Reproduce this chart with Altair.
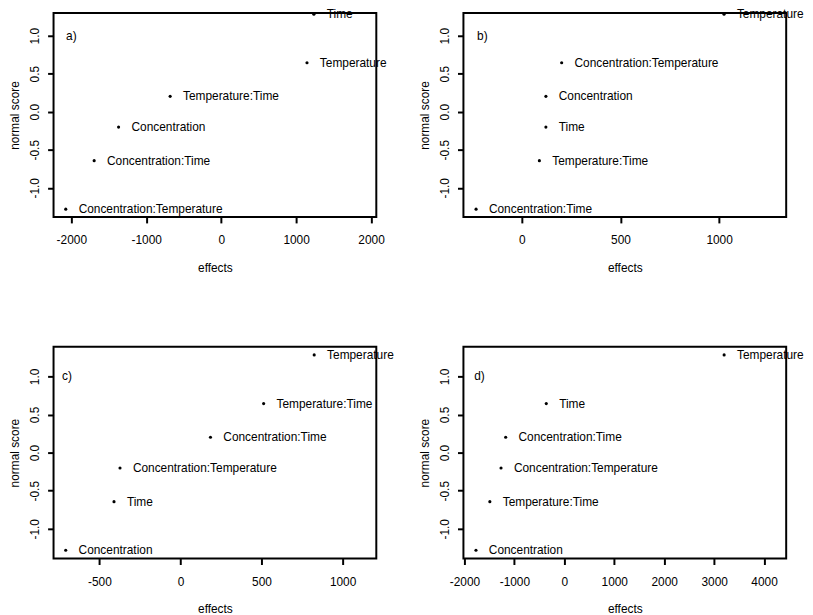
import altair as alt
import pandas as pd

# normal scores (same six positions in every panel)
normal_scores = [-1.2816, -0.6433, -0.2019, 0.2019, 0.6433, 1.2816]

a_terms = ["Concentration:Temperature", "Concentration:Time", "Concentration",
           "Temperature:Time", "Temperature", "Time"]
a_effects = [-2074, -1695, -1369, -681, 1145, 1237]

b_terms = ["Concentration:Time", "Temperature:Time", "Time", "Concentration",
           "Concentration:Temperature", "Temperature"]
b_effects = [-232, 89, 122, 122, 202, 1025]

c_terms = ["Concentration", "Time", "Concentration:Temperature",
           "Concentration:Time", "Temperature:Time", "Temperature"]
c_effects = [-708, -410, -373, 185, 513, 825]

d_terms = ["Concentration", "Temperature:Time", "Concentration:Temperature",
           "Concentration:Time", "Time", "Temperature"]
d_effects = [-1769, -1491, -1267, -1174, -361, 3200]

panel_letters = ["a)", "b)", "c)", "d)"]
letter_x = [-2000, -200, -700, -1700]
letter_y = 1.0

x_domains = [[-2237, 2070], [-296, 1340], [-783, 1208], [-2020, 4443]]
x_ticks = [[-2000, -1000, 0, 1000, 2000], [0, 500, 1000],
           [-500, 0, 500, 1000], [-2000, -1000, 0, 1000, 2000, 3000, 4000]]
y_ticks = [-1.0, -0.5, 0.0, 0.5, 1.0]

FONT = "Liberation Sans"


def panel(i, terms, effects, ydom, h):
    df = pd.DataFrame({"effect": effects, "score": normal_scores, "term": terms})
    ldf = pd.DataFrame({"effect": [letter_x[i]], "score": [letter_y],
                        "term": [panel_letters[i]]})
    x = alt.X("effect:Q",
              scale=alt.Scale(domain=x_domains[i], nice=False, zero=False),
              axis=alt.Axis(values=x_ticks[i], title="effects",
                            labelExpr="datum.value < 0 ? '-' + format(-datum.value, 'd') : format(datum.value, 'd')"))
    y = alt.Y("score:Q",
              scale=alt.Scale(domain=ydom, nice=False, zero=False),
              axis=alt.Axis(values=y_ticks, title="normal score",
                            labelExpr="datum.value < 0 ? '-' + format(-datum.value, '.1f') : format(datum.value, '.1f')"))
    pts = alt.Chart(df).mark_point(filled=True, size=10, color="black",
                                   opacity=1).encode(x=x, y=y)
    txt = alt.Chart(df).mark_text(align="left", baseline="middle", dx=13,
                                  fontSize=12, font=FONT, color="black").encode(
        x=x, y=y, text="term:N")
    let = alt.Chart(ldf).mark_text(align="center", baseline="middle",
                                   fontSize=12, font=FONT, color="black").encode(
        x=x, y=y, text="term:N")
    return alt.layer(pts, txt, let).properties(width=326, height=h)


top_dom = [-1.384, 1.298]
bot_dom = [-1.39, 1.39]

pa = panel(0, a_terms, a_effects, top_dom, 206)
pb = panel(1, b_terms, b_effects, top_dom, 206)
pc = panel(2, c_terms, c_effects, bot_dom, 214)
pd_ = panel(3, d_terms, d_effects, bot_dom, 214)

chart = alt.concat(pa, pb, pc, pd_, columns=2,
                   spacing={"row": 131, "column": 88}, bounds="flush").properties(
    padding={"left": 0, "top": -4, "right": 0, "bottom": 0}
).configure_view(
    stroke="black", strokeWidth=2
).configure_axis(
    grid=False, domain=False, tickColor="black", tickWidth=2, tickSize=6,
    labelFont=FONT, titleFont=FONT, labelFontSize=12, titleFontSize=12,
    titleFontWeight="normal", labelColor="black", titleColor="black",
    labelFlush=False, labelOverlap=False
).configure_axisX(
    labelPadding=12, titlePadding=17
).configure_axisY(
    labelAngle=270, labelAlign="center", labelBaseline="bottom",
    labelPadding=6, titlePadding=7
)

chart.save("out.html", embed_options={"renderer": "svg", "actions": False})
